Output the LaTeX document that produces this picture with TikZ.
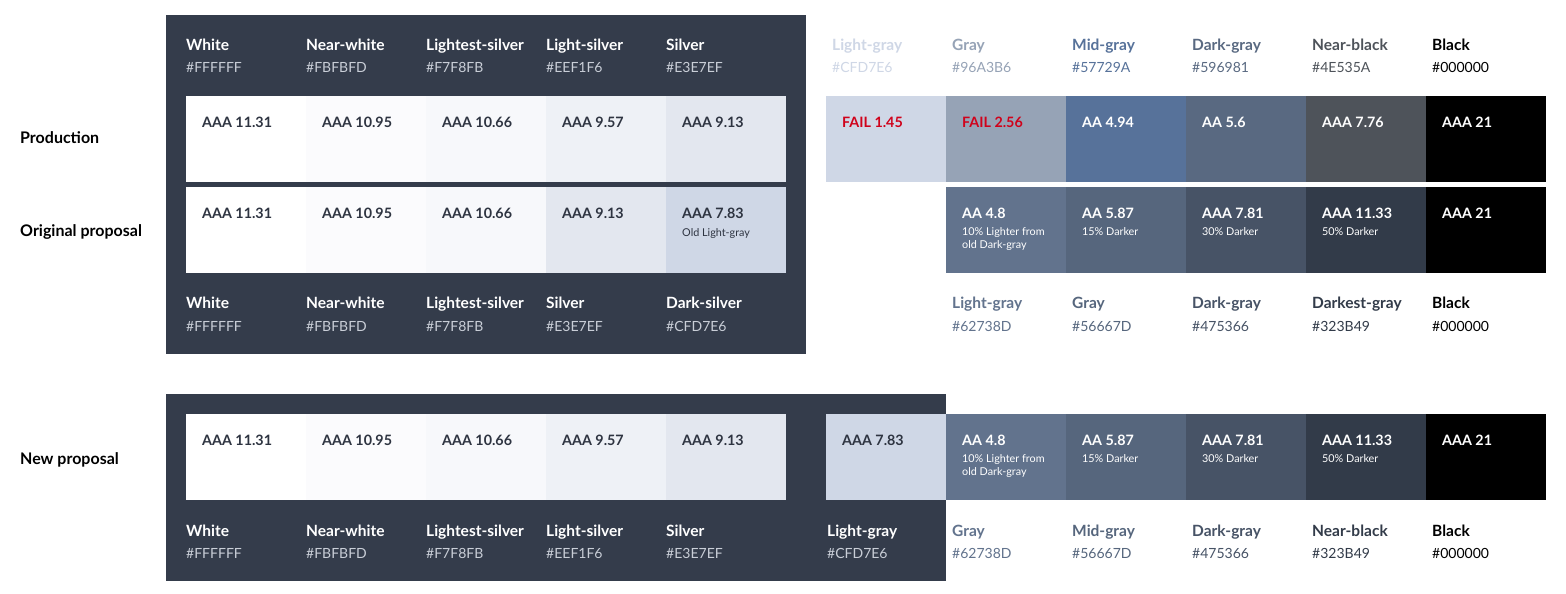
\documentclass[tikz,border=0pt]{standalone}
\usepackage{fontspec}
\setmainfont{Lato}
\usetikzlibrary{positioning}

\definecolor{panelbg}{HTML}{343C4B}
\definecolor{panelhex}{HTML}{C9CED7}
\definecolor{ink}{HTML}{2E3441}
\definecolor{failred}{HTML}{D0021B}

\begin{document}
\begin{tikzpicture}[
  x=1pt,y=-1pt,
  panel/.style={rectangle,fill=panelbg,inner sep=0pt,anchor=north west},
  swatch/.style={rectangle,inner sep=0pt,anchor=north west,minimum width=120pt,minimum height=86pt},
  cname/.style={anchor=base west,inner sep=0pt,font=\bfseries\fontsize{15.5}{17}\selectfont},
  chex/.style={anchor=base west,inner sep=0pt,font=\fontsize{14}{16}\selectfont},
  score/.style={anchor=base west,inner sep=0pt,font=\bfseries\fontsize{14.3}{16}\selectfont},
  note/.style={anchor=base west,inner sep=0pt,font=\fontsize{10.8}{13}\selectfont},
  rowlabel/.style={anchor=base west,inner sep=0pt,font=\bfseries\fontsize{16}{18}\selectfont},
]
\useasboundingbox[fill=white] (0,0) rectangle (1566,594);

% dark panels
\node[panel,minimum width=640pt,minimum height=339pt] (toppanel) at (166,15) {};
\node[panel,minimum width=780pt,minimum height=187pt] (newpanel) at (166,394) {};

% row labels
\node[rowlabel] (prodlabel) at (20,143) {Production};
\node[rowlabel] (origlabel) at (20,236) {Original proposal};
\node[rowlabel] (newlabel) at (20,464) {New proposal};

% production
\foreach \fc/\nm/\txt [count=\i] in {FFFFFF/White/AAA 11.31, FBFBFD/Near-white/AAA 10.95,
    F7F8FB/Lightest-silver/AAA 10.66, EEF1F6/Light-silver/AAA 9.57, E3E7EF/Silver/AAA 9.13}{
  \definecolor{swc}{HTML}{\fc}
  \node[cname,text=white] (prodname\i) at ({66+120*\i},51) {\nm};
  \node[chex,text=panelhex] (prodhex\i) at ({66+120*\i},73) {\#\fc};
  \node[swatch,fill=swc] (prod\i) at ({66+120*\i},96) {};
  \node[score,text=ink] (prodscore\i) at ({82+120*\i},127) {\txt};
}
\foreach \fc/\nm/\txt/\tc [count=\i] in {CFD7E6/Light-gray/FAIL 1.45/failred, 96A3B6/Gray/FAIL 2.56/failred,
    57729A/Mid-gray/AA 4.94/white, 596981/Dark-gray/AA 5.6/white,
    4E535A/Near-black/AAA 7.76/white, 000000/Black/AAA 21/white}{
  \definecolor{swc}{HTML}{\fc}
  \node[cname,text=swc] (prodrname\i) at ({712+120*\i},51) {\nm};
  \node[chex,text=swc] (prodrhex\i) at ({712+120*\i},73) {\#\fc};
  \node[swatch,fill=swc] (prodr\i) at ({706+120*\i},96) {};
  \node[score,text=\tc] (prodrscore\i) at ({722+120*\i},127) {\txt};
}

% original proposal
\foreach \fc/\nm/\txt [count=\i] in {FFFFFF/White/AAA 11.31, FBFBFD/Near-white/AAA 10.95,
    F7F8FB/Lightest-silver/AAA 10.66, E3E7EF/Silver/AAA 9.13, CFD7E6/Dark-silver/AAA 7.83}{
  \definecolor{swc}{HTML}{\fc}
  \node[swatch,fill=swc] (orig\i) at ({66+120*\i},187) {};
  \node[score,text=ink] (origscore\i) at ({82+120*\i},218) {\txt};
  \node[cname,text=white] (origname\i) at ({66+120*\i},308) {\nm};
  \node[chex,text=panelhex] (orighex\i) at ({66+120*\i},331) {\#\fc};
}
\node[note,text=ink] (orignote5) at (682,236) {Old Light-gray};
\foreach \fc/\nm/\txt [count=\i] in {62738D/Light-gray/AA 4.8, 56667D/Gray/AA 5.87,
    475366/Dark-gray/AAA 7.81, 323B49/Darkest-gray/AAA 11.33, 000000/Black/AAA 21}{
  \definecolor{swc}{HTML}{\fc}
  \node[swatch,fill=swc] (origr\i) at ({826+120*\i},187) {};
  \node[score,text=white] (origrscore\i) at ({842+120*\i},218) {\txt};
  \node[cname,text=swc] (origrname\i) at ({832+120*\i},308) {\nm};
  \node[chex,text=swc] (origrhex\i) at ({832+120*\i},331) {\#\fc};
}
\node[note,text=white] (origrnote1) at (962,235) {10\% Lighter from};
\node[note,text=white] (origrnote1b) at (962,248) {old Dark-gray};
\node[note,text=white] (origrnote2) at (1082,235) {15\% Darker};
\node[note,text=white] (origrnote3) at (1202,235) {30\% Darker};
\node[note,text=white] (origrnote4) at (1322,235) {50\% Darker};

% new proposal
\foreach \fc/\nm/\txt [count=\i] in {FFFFFF/White/AAA 11.31, FBFBFD/Near-white/AAA 10.95,
    F7F8FB/Lightest-silver/AAA 10.66, EEF1F6/Light-silver/AAA 9.57, E3E7EF/Silver/AAA 9.13}{
  \definecolor{swc}{HTML}{\fc}
  \node[swatch,fill=swc] (new\i) at ({66+120*\i},414) {};
  \node[score,text=ink] (newscore\i) at ({82+120*\i},445) {\txt};
  \node[cname,text=white] (newname\i) at ({66+120*\i},536) {\nm};
  \node[chex,text=panelhex] (newhex\i) at ({66+120*\i},558) {\#\fc};
}
\definecolor{newlg}{HTML}{CFD7E6}
\node[swatch,fill=newlg] (new6) at (826,414) {};
\node[score,text=ink] (newscore6) at (842,445) {AAA 7.83};
\node[cname,text=white] (newname6) at (827,536) {Light-gray};
\node[chex,text=panelhex] (newhex6) at (827,558) {\#CFD7E6};
\foreach \fc/\nm/\txt [count=\i] in {62738D/Gray/AA 4.8, 56667D/Mid-gray/AA 5.87,
    475366/Dark-gray/AAA 7.81, 323B49/Near-black/AAA 11.33, 000000/Black/AAA 21}{
  \definecolor{swc}{HTML}{\fc}
  \node[swatch,fill=swc] (newr\i) at ({826+120*\i},414) {};
  \node[score,text=white] (newrscore\i) at ({842+120*\i},445) {\txt};
  \node[cname,text=swc] (newrname\i) at ({832+120*\i},536) {\nm};
  \node[chex,text=swc] (newrhex\i) at ({832+120*\i},558) {\#\fc};
}
\node[note,text=white] (newrnote1) at (962,462) {10\% Lighter from};
\node[note,text=white] (newrnote1b) at (962,475) {old Dark-gray};
\node[note,text=white] (newrnote2) at (1082,462) {15\% Darker};
\node[note,text=white] (newrnote3) at (1202,462) {30\% Darker};
\node[note,text=white] (newrnote4) at (1322,462) {50\% Darker};
\end{tikzpicture}
\end{document}
